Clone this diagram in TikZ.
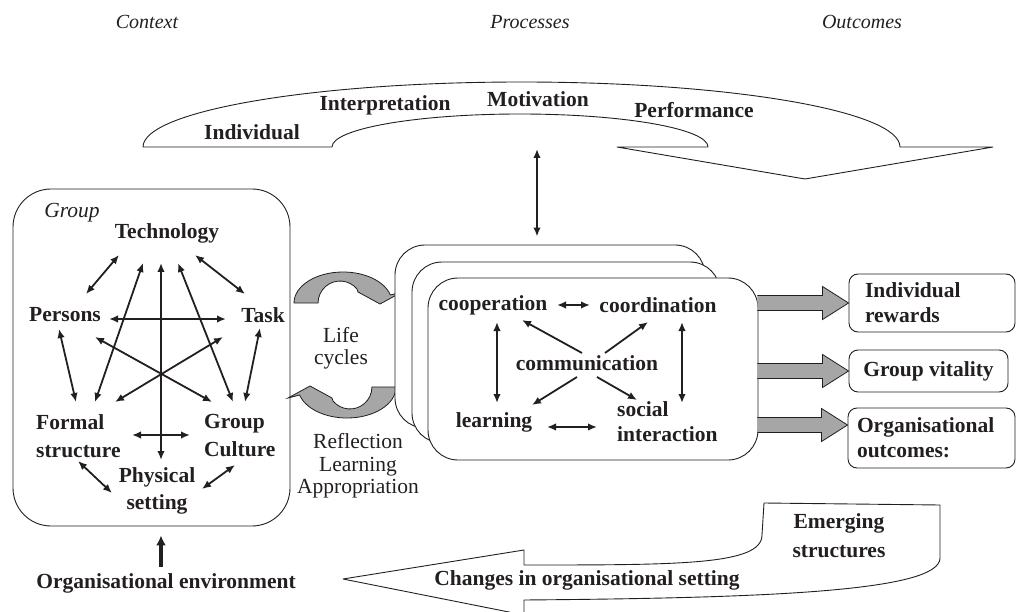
\documentclass[tikz,border=0pt]{standalone}
\usepackage{fontspec}
\setmainfont{Liberation Serif}
\usetikzlibrary{arrows.meta,calc}
\definecolor{ink}{RGB}{35,31,32}
\definecolor{flowgray}{RGB}{166,166,166}

\begin{document}
\begin{tikzpicture}[x=1pt,y=-1pt,
  >={Latex[length=9pt,width=7.5pt]},
  every node/.style={text=ink, inner sep=0pt},
  lbl/.style={font=\fontsize{21.5}{28}\selectfont\bfseries},
  plain/.style={font=\fontsize{21.5}{22}\selectfont},
  hdr/.style={font=\fontsize{20}{24}\selectfont\itshape},
  frame/.style={draw=ink, line width=0.9pt},
  outline/.style={draw=ink, line width=0.9pt, line join=round},
  link/.style={draw=ink, line width=1.8pt, <->},
  push/.style={draw=ink, line width=1.8pt, ->},
  flow/.style={draw=ink, fill=flowgray, line width=0.8pt, line join=miter},
]
\useasboundingbox (0,0) rectangle (1017,612);

% column headings
\node[hdr] (ctx)  at (147,22) {Context};
\node[hdr] (proc) at (530,22) {Processes};
\node[hdr] (outc) at (862,22) {Outcomes};

% individual level: curved arrow over the top
\draw[outline] (143,147) arc[start angle=180,end angle=360,x radius=378.5,y radius=65]
  -- (993,147) -- (805,179) -- (617,147) -- (708,147)
  arc[start angle=360,end angle=180,x radius=188,y radius=33] -- cycle;
\node[lbl] (indiv)  at (252,132) {Individual};
\node[lbl] (interp) at (385,105) {Interpretation};
\node[lbl] (motiv)  at (538,99)  {Motivation};
\node[lbl] (perf)   at (694,110) {Performance};

% group context
\node[frame, rounded corners=38pt, minimum width=277pt, minimum height=337pt] (groupbox) at (151.5,357.5) {};
\node[font=\fontsize{21.5}{24}\selectfont\itshape] (grouptag) at (72,213) {Group};
\node[lbl] (tech)    at (167,233) {Technology};
\node[lbl] (persons) at (65,315)  {Persons};
\node[lbl] (task)    at (263,315) {Task};
\node[lbl, anchor=west, align=left] (formal)  at (36,436)  {Formal\\structure};
\node[lbl, anchor=west, align=left] (culture) at (204,436) {Group\\Culture};
\node[lbl, align=center, font=\fontsize{21.5}{27}\selectfont\bfseries] (physical) at (157,491) {Physical\\setting};

\draw[link] ($(tech)+(-48,22)$) -- ($(persons)+(21,-21)$);
\draw[link] ($(tech)+(28,22)$) -- ($(task)+(-18,-21)$);
\draw[link] ($(persons)+(44,4)$) -- ($(task)+(-37,4)$);
\draw[link] ($(tech)+(-6,30)$) -- ($(physical)+(4,-31)$);
\draw[link] ($(tech)+(-24,30)$) -- ($(formal.west)+(59,-34)$);
\draw[link] ($(persons)+(-6,14)$) -- ($(formal.west)+(40,-34)$);
\draw[link] ($(tech)+(11,30)$) -- ($(culture.west)+(29,-34)$);
\draw[link] ($(task)+(-3,13)$) -- ($(culture.west)+(41,-34)$);
\draw[link] ($(persons)+(30,22)$) -- ($(culture.west)+(8,-34)$);
\draw[link] ($(task)+(-40,22)$) -- ($(formal.west)+(79,-34)$);
\draw[link] ($(formal.west)+(96,-1)$) -- ($(culture.west)+(-14,-1)$);
\draw[link] ($(formal.west)+(42,25)$) -- ($(physical)+(-45,2)$);
\draw[link] ($(culture.west)+(31,29)$) -- ($(physical)+(45,-2)$);

% organisational environment
\node[lbl] (orgenv) at (166,583) {Organisational environment};
\draw[draw=ink, line width=3.5pt, -{Latex[length=10pt,width=10pt]}] ($(orgenv)+(-5,-16)$) -- ($(groupbox.south)+(9.5,9)$);

% life cycles between context and processes: two crescent arrows
\filldraw[flow] (294,303) arc[start angle=180,end angle=345,x radius=49,y radius=31]
  -- (402,292) -- (380,304) -- (358,292) -- (356.9,288.9)
  arc[start angle=320,end angle=180,radius=22] -- cycle;
\begin{scope}[rotate around={180:(345,345)}]
\filldraw[flow] (294,303) arc[start angle=180,end angle=345,x radius=49,y radius=31]
  -- (402,292) -- (380,304) -- (358,292) -- (356.9,288.9)
  arc[start angle=320,end angle=180,radius=22] -- cycle;
\end{scope}
\node[plain, align=center] (cycles) at (341,348) {Life\\cycles};
\node[plain, align=center, font=\fontsize{21.5}{22.5}\selectfont] (reflect) at (358,466) {Reflection\\Learning\\Appropriation};

% group processes, stacked over time
\node[frame, fill=white, rounded corners=30pt, minimum width=310pt, minimum height=183pt] (back)  at (550,336.5) {};
\node[frame, fill=white, rounded corners=30pt, minimum width=308pt, minimum height=181pt] (mid)   at (566,352.5) {};
\node[frame, fill=white, rounded corners=30pt, minimum width=330pt, minimum height=182pt] (front) at (593,369) {};
\coordinate (fromtop) at (537,149);
\draw[link] (fromtop) -- ($(back.north)+(-13,-8)$);

\node[lbl] (coop)  at (493,305) {cooperation};
\node[lbl] (coord) at (658,305) {coordination};
\node[lbl] (comm)  at (587,363) {communication};
\node[lbl] (learn) at (494,422) {learning};
\node[lbl, anchor=west, align=left, font=\fontsize{21.5}{25}\selectfont\bfseries] (social) at (617,422) {social\\interaction};

\draw[link] ($(coop)+(64,0)$) -- ($(coord)+(-68,0)$);
\draw[link] ($(coop)+(4,17)$) -- ($(learn)+(3,-19)$);
\draw[link] ($(coord)+(24,17)$) -- ($(social.west)+(65,-19)$);
\draw[push] ($(comm)+(-5,-10)$) -- ($(coop)+(29,15)$);
\draw[push] ($(comm)+(18,-10)$) -- ($(coord)+(-10,17)$);
\draw[push] ($(comm)+(-10,14)$) -- ($(learn)+(38,-17)$);
\draw[push] ($(comm)+(10,14)$) -- ($(social.west)+(20,-22)$);
\draw[link] ($(learn)+(53,5)$) -- ($(social.west)+(-20,5)$);

% outcomes
\node[frame, rounded corners=9pt, lbl, font=\fontsize{21.5}{25}\selectfont\bfseries, minimum height=58pt, text width=134pt, inner xsep=16pt, align=left] (out1) at (932,303) {Individual\\rewards};
\node[frame, rounded corners=9pt, lbl, minimum height=42pt, minimum width=159pt] (out2) at (928.5,371) {Group vitality};
\node[frame, rounded corners=9pt, lbl, font=\fontsize{21.5}{25}\selectfont\bfseries, minimum height=60pt, text width=149pt, inner xsep=9pt, align=left] (out3) at (931.5,438) {Organisational\\outcomes:};

\foreach \tgt/\dy in {out1/0,out2/0,out3/-13} {
  \fill[flowgray] ($(front.east |- \tgt.west)+(-1,\dy-7.5)$) -- ($(\tgt.west)+(-26,\dy-7.5)$)
    -- ($(\tgt.west)+(-26,\dy-16.5)$) -- ($(\tgt.west)+(0,\dy)$) -- ($(\tgt.west)+(-26,\dy+16.5)$)
    -- ($(\tgt.west)+(-26,\dy+7.5)$) -- ($(front.east |- \tgt.west)+(-1,\dy+7.5)$) -- cycle;
  \draw[draw=ink, line width=0.8pt] ($(front.east |- \tgt.west)+(-1,\dy-7.5)$) -- ($(\tgt.west)+(-26,\dy-7.5)$)
    -- ($(\tgt.west)+(-26,\dy-16.5)$) -- ($(\tgt.west)+(0,\dy)$) -- ($(\tgt.west)+(-26,\dy+16.5)$)
    -- ($(\tgt.west)+(-26,\dy+7.5)$) -- ($(front.east |- \tgt.west)+(-1,\dy+7.5)$);
}

% feedback to the organisation
\draw[outline] (764,503) -- (940,505) -- (940,558)
  .. controls (940,592) and (760,598) .. (524,600) -- (524,615) -- (343,579) -- (524,550) -- (524,565)
  .. controls (680,565) and (762,565) .. (762,535) -- cycle;
\node[lbl, align=center, font=\fontsize{21.5}{29}\selectfont\bfseries] (emerg) at (839,536) {Emerging\\structures};
\node[lbl] (changes) at (587,580) {Changes in organisational setting};

\end{tikzpicture}
\end{document}
